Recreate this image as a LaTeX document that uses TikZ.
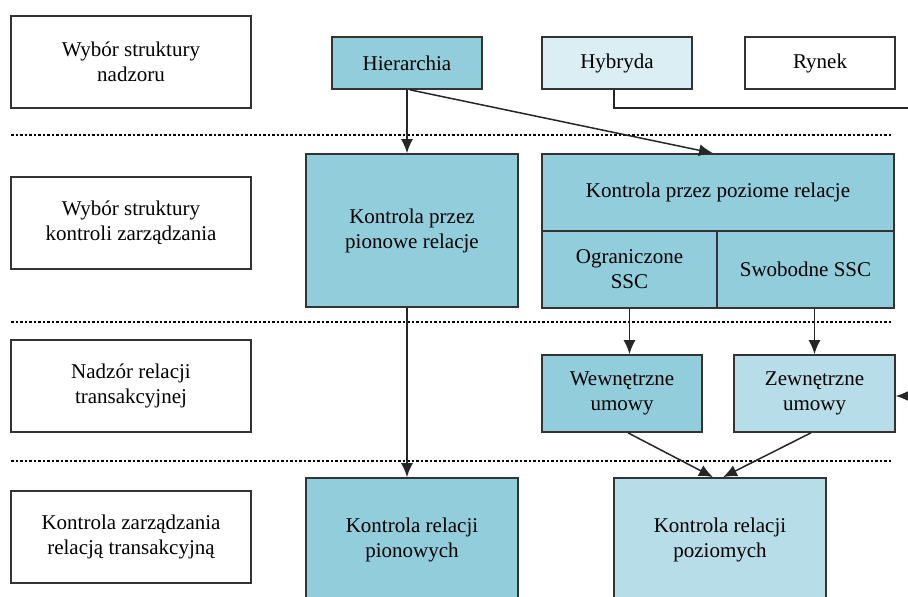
\documentclass[tikz,border=0pt]{standalone}
\usepackage{fontspec}
\setmainfont{Liberation Serif}
\usepackage{tikz}
\usetikzlibrary{positioning,arrows.meta}
\definecolor{mid}{HTML}{92CDDC}
\definecolor{pale}{HTML}{B7DDE8}
\definecolor{paler}{HTML}{DAEEF3}
\tikzset{
  block/.style={
    draw=black!80,
    line width=1.7pt,
    rectangle,
    inner sep=0pt,
    align=center,
    font=\fontsize{21}{25}\selectfont
  },
  levelbox/.style={block, minimum width=240pt, minimum height=92pt},
  topbox/.style={block, minimum width=150pt, minimum height=52pt},
  line/.style={-{Latex[length=14pt,width=12pt]}, line width=1.5pt, draw=black!85},
  sep/.style={line width=2.6pt, dash pattern=on 2.6pt off 1.9pt}
}
\begin{document}
\begin{tikzpicture}[x=1pt,y=-1pt]
\clip (0,0) rectangle (908,597);

				% poziomy
				\node[levelbox] (nadzor)  at (131,62)    {Wybór struktury\\nadzoru};
				\node[levelbox] (kontrola) at (131,223) {Wybór struktury\\kontroli zarządzania};
				\node[levelbox] (transakcja) at (131,386) {Nadzór relacji\\transakcyjnej};
				\node[levelbox] (zarzadzanie) at (131,537) {Kontrola zarządzania\\relacją transakcyjną};

				\foreach \y in {135,322,461}
					\draw[sep] (11,\y) -- (892,\y);

				% struktury nadzoru
				\node[topbox, fill=mid]   (hier)  at (407,63) {Hierarchia};
				\node[topbox, fill=paler] (hyb)   at (617,63) {Hybryda};
				\node[topbox]             (rynek) at (820,63) {Rynek};

				% kontrola zarzadzania
				\node[block, fill=mid, minimum width=212pt, minimum height=153pt] (pion) at (412,230.5) {Kontrola przez\\pionowe relacje};
				\node[block, fill=mid, minimum width=352pt, minimum height=77pt] (poz) at (718,192.5) {Kontrola przez poziome relacje};
				\node[block, fill=mid, minimum width=175pt, minimum height=77pt] (ogr) at (629.5,269.5) {Ograniczone\\SSC};
				\node[block, fill=mid, minimum width=177pt, minimum height=77pt] (swob) at (805.5,269.5) {Swobodne SSC};

				% umowy
				\node[block, fill=mid,  minimum width=160pt, minimum height=77pt] (wew) at (622,393.5) {Wewnętrzne\\umowy};
				\node[block, fill=pale, minimum width=161pt, minimum height=77pt] (zew) at (814.5,393.5) {Zewnętrzne\\umowy};

				% kontrola relacji
				\node[block, fill=mid,  minimum width=212pt, minimum height=124pt] (kpion) at (412,540) {Kontrola relacji\\pionowych};
				\node[block, fill=pale, minimum width=212pt, minimum height=124pt] (kpoz) at (720,540) {Kontrola relacji\\poziomych};

				\draw[line] (hier.south) -- (hier.south |- pion.north);
				\draw[line] ([xshift=3pt]hier.south) -- ([xshift=-5pt]poz.north);

				\coordinate (hybend) at (908,108);
				\draw[line width=1.5pt, draw=black!85] ([xshift=-3pt]hyb.south) |- (hybend);

				\draw[line] (hier.south |- pion.south) -- (hier.south |- kpion.north);
				\draw[line] (ogr.south) -- (ogr.south |- wew.north);
				\draw[line] (zew.north |- swob.south) -- (zew.north);

				\coordinate (zewin) at (908,396);
				\draw[line] (zewin) -- (zew.east |- zewin);

				\draw[line] ([xshift=6pt]wew.south) -- ([xshift=-7pt]kpoz.north);
				\draw[line] ([xshift=-3.5pt]zew.south) -- ([xshift=3pt]kpoz.north);

\end{tikzpicture}
\end{document}
